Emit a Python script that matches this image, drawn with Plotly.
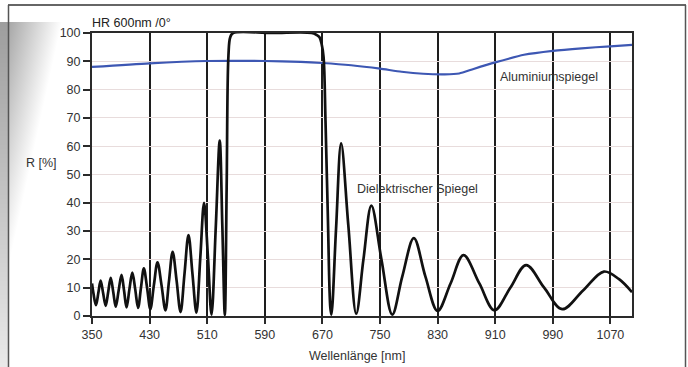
import base64
import struct
import zlib

import plotly.graph_objects as go

# ---------------- data ----------------
diel_nm = [350, 352, 355.5, 359, 362, 365.5, 369, 372.5, 376, 379.5, 383, 387, 391, 394.5,
           398, 402, 406, 410, 414, 418, 422, 426.5, 431, 436, 441, 446.5, 452, 457, 462,
           467.5, 473, 478.5, 484, 489.5, 495, 500.5, 505.6, 511, 516, 522, 527.4, 531,
           534.5, 537, 539.5, 542, 546, 600, 655, 662, 666, 669, 671.6, 674.3, 677.6, 681,
           682.5, 689, 696, 706, 717, 727, 738, 752, 767, 781, 797, 813, 830, 848, 866,
           888, 909, 931, 953, 978, 1003, 1032, 1061, 1082, 1100]
diel_r = [11.5, 8, 3.8, 8.5, 12.5, 8, 3.6, 8.5, 13.5, 8.5, 3.3, 9, 14.5, 9,
          3, 9.5, 15.3, 9.5, 2.9, 10, 16.8, 10, 2.4, 11, 19, 11, 2, 12.5, 22.7,
          12.5, 1.4, 15, 28.6, 15, 1.2, 21, 40, 21, 0.5, 32, 62, 32,
          0.3, 45, 92, 98.5, 100, 100, 100, 99.3, 98.5, 96, 91.6, 69, 35, 3,
          0.5, 31, 61, 32, 0.8, 20, 39, 20, 0.5, 14, 27.5, 14, 1.8, 11.5, 21.5,
          11.5, 2, 10, 18, 10, 2.4, 9, 15.7, 13, 8.4]

alu_nm = [350, 430, 510, 590, 640, 670, 710, 750, 780, 810, 840, 860, 880, 910, 950, 990, 1030, 1070, 1100]
alu_r = [88.0, 89.3, 90.1, 90.1, 89.8, 89.4, 88.6, 87.4, 86.3, 85.6, 85.4, 85.7, 87.3, 89.6, 92.3, 93.7, 94.6, 95.3, 95.8]

x_ticks = [350, 430, 510, 590, 670, 750, 830, 910, 990, 1070]
y_ticks = [0, 10, 20, 30, 40, 50, 60, 70, 80, 90, 100]

title_text = "HR 600nm /0°"
y_title = "R [%]"
x_title = "Wellenlänge [nm]"
label_alu = "Aluminiumspiegel"
label_diel = "Dielektrischer Spiegel"

# ---------------- layout geometry ----------------
W, H = 688, 367
L, R, T, B = 92, 632, 33, 316
FONT = "Liberation Sans, Arial, sans-serif"
TXT = "#333333"


def px(x):
    return (x - L) / (R - L)


def py(y):
    return (B - y) / (B - T)


# ---------------- decorative gray gradient (page frame of the scan) ----------------
GX0, GX1, GY0, GY1 = 0, 62, 22, 367


def shade(x, y):
    if x < 8:
        v = 158 + (y - GY0) * 0.22
        return min(234, v)
    v = 168 + (x - 9) * 1.65 + (y - GY0) * 0.36
    return min(255, v)


def gradient_png():
    w, h = GX1 - GX0, GY1 - GY0
    raw = bytearray()
    for j in range(h):
        raw.append(0)
        for i in range(w):
            raw.append(int(shade(GX0 + i + 0.5, GY0 + j + 0.5)))

    def chunk(tag, data):
        c = struct.pack(">I", len(data)) + tag + data
        return c + struct.pack(">I", zlib.crc32(tag + data) & 0xffffffff)

    png = b"\x89PNG\r\n\x1a\n"
    png += chunk(b"IHDR", struct.pack(">IIBBBBB", w, h, 8, 0, 0, 0, 0))
    png += chunk(b"IDAT", zlib.compress(bytes(raw), 9))
    png += chunk(b"IEND", b"")
    return "data:image/png;base64," + base64.b64encode(png).decode()


fig = go.Figure()

fig.add_trace(go.Scatter(x=alu_nm, y=alu_r, mode="lines",
                         line=dict(color="#3d57b3", width=2.2, shape="spline", smoothing=0.6),
                         showlegend=False))
fig.add_trace(go.Scatter(x=diel_nm, y=diel_r, mode="lines",
                         line=dict(color="#111111", width=2.7, shape="spline", smoothing=1.0),
                         showlegend=False))

shapes = [
    dict(type="line", xref="paper", yref="paper", x0=px(8), x1=px(686), y0=py(5), y1=py(5),
         line=dict(color="#666666", width=2)),
    dict(type="line", xref="paper", yref="paper", x0=px(8.5), x1=px(8.5), y0=py(5), y1=py(367),
         line=dict(color="#555555", width=1.5)),
    dict(type="line", xref="paper", yref="paper", x0=px(685.5), x1=px(685.5), y0=py(5), y1=py(367),
         line=dict(color="#555555", width=1.5)),
]

images = [dict(source=gradient_png(), xref="paper", yref="paper",
               x=px(GX0), y=py(GY0), sizex=px(GX1) - px(GX0), sizey=py(GY0) - py(GY1),
               xanchor="left", yanchor="top", sizing="stretch", layer="below")]

annotations = [
    dict(text=title_text, xref="paper", yref="paper", x=px(90), y=py(23), xanchor="left", yanchor="middle",
         showarrow=False, font=dict(family=FONT, size=12.5, color="#222222")),
    dict(text=y_title, xref="paper", yref="paper", x=px(41), y=py(163), xanchor="center", yanchor="middle",
         showarrow=False, font=dict(family=FONT, size=12.5, color=TXT)),
    dict(text=x_title, xref="paper", yref="paper", x=px(357), y=py(356), xanchor="center", yanchor="middle",
         showarrow=False, font=dict(family=FONT, size=12.5, color=TXT)),
    dict(text=label_alu, xref="x", yref="y", x=985, y=84.5, xanchor="center", yanchor="middle",
         showarrow=False, font=dict(family=FONT, size=12.5, color=TXT)),
    dict(text=label_diel, xref="x", yref="y", x=802, y=44.9, xanchor="center", yanchor="middle",
         showarrow=False, font=dict(family=FONT, size=12.5, color=TXT)),
]

fig.update_layout(
    width=W, height=H,
    margin=dict(l=L, r=W - R, t=T, b=H - B),
    paper_bgcolor="white", plot_bgcolor="white",
    shapes=shapes, annotations=annotations, images=images,
    font=dict(family=FONT, size=12.5, color=TXT),
)
fig.update_xaxes(range=[350, 1100], tickmode="array", tickvals=x_ticks,
                 ticktext=[str(v) for v in x_ticks],
                 showgrid=True, gridcolor="#1e1e1e", gridwidth=2,
                 showline=True, linecolor="#2a2a2a", linewidth=2, mirror=True,
                 ticks="outside", ticklen=6, tickwidth=1.5, tickcolor="#2a2a2a",
                 zeroline=False, tickfont=dict(family=FONT, size=12.5, color=TXT))
fig.update_yaxes(range=[0, 100], tickmode="array", tickvals=y_ticks,
                 ticktext=[str(v) for v in y_ticks],
                 showgrid=True, gridcolor="#e8dcdc", gridwidth=1,
                 showline=True, linecolor="#2a2a2a", linewidth=2, mirror=True,
                 ticks="outside", ticklen=7, tickwidth=1.5, tickcolor="#2a2a2a",
                 zeroline=False, tickfont=dict(family=FONT, size=12.5, color=TXT))

fig.write_html("out.html", config={"displayModeBar": False},
               post_script="document.body.style.margin='0';document.body.style.overflow='hidden';")
